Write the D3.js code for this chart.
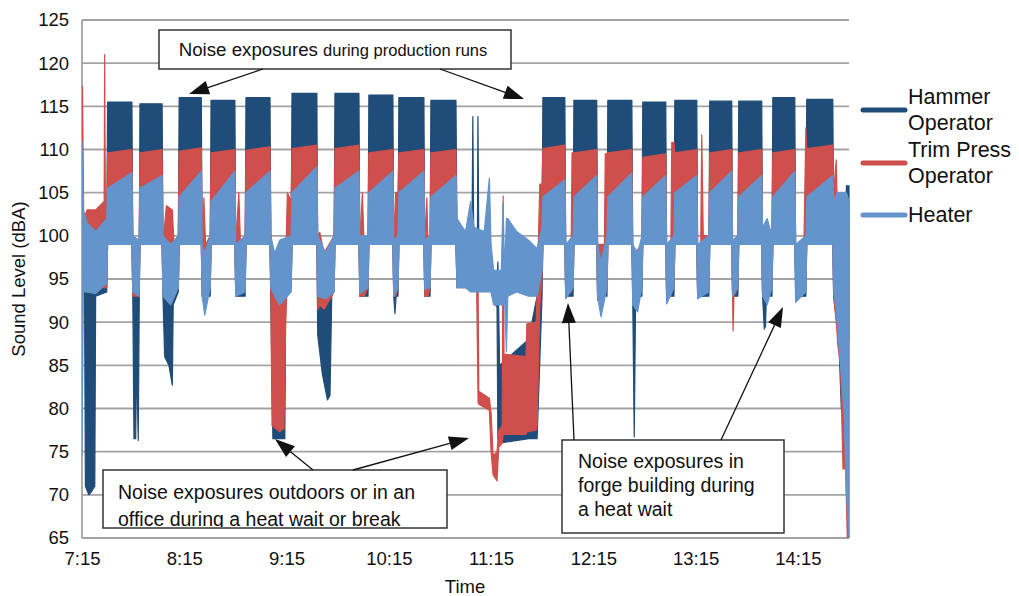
<!DOCTYPE html>
<html lang="en">
<head>
<meta charset="utf-8" />
<title>Sound level by time</title>
<style>
  body { margin: 0; background: #fff; font-family: "Liberation Sans", Arial, sans-serif; }
  .grid line { stroke: #a3a3a3; stroke-width: 1.8px; }
  .tick text { fill: #111; font-size: 18.5px; }
  .note rect { fill: #fff; stroke: #333; stroke-width: 1.5px; }
  .note text { fill: #111; font-size: 19.5px; }
  .arrow { stroke: #111; stroke-width: 1.3px; }
</style>
</head>
<body>
<script src="https://cdn.jsdelivr.net/npm/d3@7"></script>
<script>
// time is minutes after 7:15
const tickMinutes = [0, 60, 120, 180, 240, 300, 360, 420];
const tickLabels = ["7:15", "8:15", "9:15", "10:15", "11:15", "12:15", "13:15", "14:15"];
const yTicks = [65, 70, 75, 80, 85, 90, 95, 100, 105, 110, 115, 120, 125];

// production runs: start, end, hammer top, trim top, heater top at start, heater top at end
const runs = [
  [15.0, 29.3, 115.5, 110.0, 105.5, 107.3],
  [34.0, 47.0, 115.3, 110.0, 105.5, 107.0],
  [57.0, 70.0, 116.0, 110.2, 104.5, 107.5],
  [75.7, 89.7, 115.7, 110.0, 104.0, 107.5],
  [96.2, 110.3, 116.0, 110.3, 105.0, 107.5],
  [123.2, 137.8, 116.5, 110.5, 105.0, 108.0],
  [148.4, 162.5, 116.5, 110.5, 105.5, 107.5],
  [168.3, 182.4, 116.3, 110.0, 105.0, 107.5],
  [185.9, 200.6, 116.0, 110.0, 105.0, 107.5],
  [204.7, 219.4, 115.7, 110.0, 104.5, 107.0],
  [270.4, 283.3, 116.0, 110.5, 104.5, 106.5],
  [288.6, 302.0, 115.7, 110.0, 104.5, 107.0],
  [308.5, 322.6, 115.7, 110.0, 104.5, 107.3],
  [329.0, 342.5, 115.5, 109.5, 104.5, 107.0],
  [347.8, 360.7, 115.7, 110.0, 105.0, 107.0],
  [368.3, 381.2, 115.6, 110.0, 105.0, 107.5],
  [385.3, 398.8, 115.6, 110.0, 104.5, 107.0],
  [405.3, 418.2, 116.0, 110.0, 104.5, 107.5],
  [425.2, 440.5, 115.8, 110.5, 104.5, 107.0]
];
const runFloor = 99;

// outside the runs: [minute, low, high]
const hammerGaps = [
  [1.5, 93, 95], [2, 71, 94], [4, 70, 94], [6, 70.5, 93.5], [7.5, 71, 94], [8, 93, 94.5], [14.5, 93.5, 96],
  [29.8, 93, 99], [30.5, 76.5, 96], [31.5, 76.5, 96], [32, 86, 96], [33, 76.3, 96], [33.6, 93, 96],
  [47.5, 93, 100], [48.5, 86, 94], [51, 85, 93], [53, 82.7, 92], [53.5, 92, 95], [56.5, 93.5, 99],
  [70.5, 93, 97], [75.2, 93, 97],
  [90.2, 93, 97], [95.7, 93, 97],
  [110.8, 92, 99], [112, 76.5, 93], [116, 76.5, 93], [119, 76.5, 93], [119.5, 93, 96], [122.7, 94, 99],
  [138.3, 88.5, 95], [141, 84, 93], [144, 81, 92], [145.5, 81.5, 93], [146.5, 93, 96], [147.9, 94, 99],
  [163, 93, 97], [167.8, 93, 97],
  [182.9, 93, 97], [183.6, 91, 97], [184.3, 93, 97], [185.4, 93, 97],
  [201.1, 93, 97], [204.2, 93, 97],
  [220, 94, 100], [228.8, 94, 100], [229.3, 94, 113.8], [229.8, 94, 100], [232, 94, 100], [232.3, 94, 113.8],
  [232.8, 94, 99], [240, 93.5, 96], [242.5, 92, 95], [243.5, 91.8, 95], [244, 76.5, 97], [245, 76, 85],
  [262, 76.5, 88], [267, 76.5, 93], [269.9, 93, 99],
  [283.8, 93, 97], [288.1, 93, 97],
  [302.5, 93, 97], [308, 93, 97],
  [323.1, 93, 99], [324, 76.7, 97], [324.8, 93, 97], [328.5, 93, 97],
  [343, 93, 97], [347.3, 93, 97],
  [361.2, 93, 97], [367.8, 93, 97],
  [381.7, 93, 97], [384.8, 93, 97],
  [399.3, 93, 97], [400.3, 89.2, 96], [401, 89.5, 96], [401.5, 93, 97], [404.8, 93, 97],
  [418.7, 93, 97], [424.7, 93, 97],
  [441, 93, 100], [444, 88, 98], [445.5, 80, 97], [446.5, 79.6, 96], [447, 88, 96], [448.5, 88, 105.8], [450, 88, 105.8]
];

const trimGaps = [
  [0.3, 95, 117.3], [1, 94, 102], [3, 93.5, 103], [8, 94, 103], [13, 94, 104], [13.3, 94, 121], [13.7, 94, 104], [14.5, 94, 104],
  [29.8, 93, 99], [33.5, 93, 99],
  [47.5, 93, 99], [49.5, 93, 103.5], [53, 93, 103], [54, 93, 99], [56.5, 94, 100],
  [70.5, 93, 100], [71.5, 94, 104.4], [72.5, 93, 99], [75.2, 94, 100],
  [90.2, 93.5, 99], [92, 94, 105], [93, 94, 99], [95.7, 94, 100],
  [110.8, 93, 100], [111.5, 78, 96], [116, 77.3, 93], [118.5, 77.7, 95], [119.5, 90, 97], [120.5, 95, 105], [122.7, 95, 104],
  [138.3, 91.5, 100], [139.5, 92, 100.4], [142, 91.5, 98], [147.9, 93.5, 100],
  [163, 93, 99], [164.5, 93, 105], [165.5, 93, 99], [167.8, 94, 100],
  [182.9, 93, 99], [184, 93, 105], [185.4, 94, 105],
  [201.1, 93, 99], [202.3, 93, 104.4], [203, 93, 99], [204.2, 94, 100],
  [220, 94.5, 99], [224, 94, 96], [226, 94.5, 99], [231.5, 94.5, 98.8], [232.4, 80.6, 94], [232.8, 80.5, 82],
  [239, 79.8, 81.2], [240, 75, 79.5], [241.2, 72.3, 74.5], [243.5, 71.6, 75], [244.5, 75.5, 77.5], [246.5, 76, 78],
  [247.1, 77, 104.6], [247.6, 77, 86.3], [260.5, 77, 86], [261, 77.3, 89.8], [266.5, 77.5, 90], [267, 78, 93.5],
  [268.6, 92, 106], [269.9, 95, 106],
  [283.8, 93, 99], [287, 93.5, 99], [287.5, 94, 109.6], [288.1, 94, 109.6],
  [302.5, 92.5, 99], [306.5, 93, 99], [307, 94, 109.5], [308, 94, 109.5],
  [323.1, 95.8, 97.7], [328.5, 95, 99],
  [343, 93, 99], [345.5, 93, 99], [346, 94, 110.8], [347.3, 94, 110.8],
  [361.2, 93, 99], [363, 93, 99], [363.6, 94, 111.7], [364.5, 94, 100], [367.8, 94, 100],
  [381.7, 93, 99], [382, 89, 99], [382.5, 93, 99], [384.8, 94, 100],
  [399.3, 93, 99], [404.8, 94, 100],
  [418.7, 95.8, 98.5], [423.5, 95.8, 98.5], [424.7, 95, 112.5],
  [441, 93, 105], [442.5, 90, 108.8], [443.5, 87.3, 100], [445, 85, 98], [446.5, 73, 98], [448, 73, 104], [449, 65, 104], [450, 65, 100]
];

const heaterGaps = [
  [0, 74.5, 111], [0.8, 93.5, 103], [3, 93.5, 101.5], [8, 93.3, 100.5], [14.5, 94.5, 102],
  [29.8, 93.5, 100], [33.5, 93, 99.5],
  [47.5, 93, 100], [52, 92, 99], [56.5, 94, 100],
  [70.5, 93, 99], [72, 90.8, 98], [75.2, 94, 100],
  [90.2, 93, 99], [95.7, 93.5, 100],
  [110.8, 94, 100], [113, 93, 98], [116, 92, 99.5], [122.7, 93.5, 100],
  [138.3, 93, 100], [143, 92.7, 98], [147.9, 93.5, 100],
  [163, 93.3, 100], [167.8, 94, 100],
  [182.9, 93, 99.5], [185.4, 94, 100],
  [201.1, 93.8, 99.5], [204.2, 94, 100],
  [220, 94, 102], [225, 94, 100.5], [228, 93.5, 104], [230, 93.5, 101], [236, 93.5, 100.5], [239, 93.5, 106.7],
  [240, 93.5, 99], [241.5, 92, 96], [246, 92, 96], [247, 92, 103.8], [248, 92.5, 96], [249, 86.6, 102],
  [249.8, 93, 102], [255, 93.5, 100.5], [262, 93, 99.5], [267, 93, 98.5], [269.9, 96, 101],
  [283.8, 92.7, 99], [288.1, 94, 100],
  [302.5, 93, 99], [304.5, 90.6, 97], [308, 94, 100],
  [323.1, 92, 99], [326, 91.2, 98], [328.5, 94, 100],
  [343, 92.1, 99], [347.3, 94, 100],
  [361.2, 92.7, 99], [367.8, 93.5, 100],
  [381.7, 93, 99.5], [384.8, 94, 100],
  [399.3, 93, 101], [402, 92, 102], [404.8, 94, 100],
  [418.7, 92.3, 99], [424.7, 93.5, 100],
  [441, 94, 104], [443, 90, 105], [445, 85, 105], [447, 80, 105], [448.5, 70, 105], [450, 65, 104]
];

const seriesNames = ["Hammer Operator", "Trim Press Operator", "Heater"];
const seriesColors = ["#1f4c78", "#cf4f4c", "#6394cc"];

const width = 1019, height = 596;
const plotLeft = 82, plotRight = 849, plotTop = 20, plotBottom = 538;

const x = d3.scaleLinear().domain([0, 450]).range([plotLeft, plotRight]);
const y = d3.scaleLinear().domain([65, 125]).range([plotBottom, plotTop]);

function build(gaps, topOf) {
  const pts = gaps.slice();
  runs.forEach(r => {
    const [a, b] = topOf(r);
    pts.push([r[0], runFloor, a], [r[1], runFloor, b]);
  });
  return pts.sort((p, q) => p[0] - q[0]);
}

const series = [
  build(hammerGaps, r => [r[2], r[2]]),
  build(trimGaps, r => [r[3] - 0.4, r[3]]),
  build(heaterGaps, r => [r[4], r[5]])
];

const svg = d3.select("body").append("svg")
  .attr("width", width)
  .attr("height", height);

// grid
svg.append("g").attr("class", "grid")
  .selectAll("line").data(yTicks).join("line")
  .attr("x1", plotLeft).attr("x2", plotRight)
  .attr("y1", d => y(d)).attr("y2", d => y(d));
svg.append("line")
  .attr("x1", plotLeft).attr("x2", plotLeft).attr("y1", plotTop).attr("y2", plotBottom)
  .attr("stroke", "#a3a3a3").attr("stroke-width", 1.8);

// axes labels
const yAxis = svg.append("g")
  .attr("transform", `translate(${plotLeft},0)`)
  .call(d3.axisLeft(y).tickValues(yTicks).tickSize(0).tickPadding(13));
yAxis.select(".domain").remove();

const xAxis = svg.append("g")
  .attr("transform", `translate(0,${plotBottom})`)
  .call(d3.axisBottom(x).tickValues(tickMinutes).tickSize(0).tickPadding(14)
    .tickFormat((d, i) => tickLabels[i]));
xAxis.select(".domain").remove();

svg.append("text")
  .attr("x", 465).attr("y", 593)
  .attr("text-anchor", "middle").style("font-size", "18.5px").attr("fill", "#111")
  .text("Time");

svg.append("text")
  .attr("transform", `translate(25,${(plotTop + plotBottom) / 2}) rotate(-90)`)
  .attr("text-anchor", "middle").style("font-size", "18.5px").attr("fill", "#111")
  .text("Sound Level (dBA)");

// traces
svg.append("clipPath").attr("id", "plot")
  .append("rect").attr("x", plotLeft).attr("y", plotTop)
  .attr("width", plotRight - plotLeft + 2).attr("height", plotBottom - plotTop);

const area = d3.area()
  .x(d => x(d[0]))
  .y0(d => y(d[1]))
  .y1(d => y(d[2]));

svg.append("g").attr("clip-path", "url(#plot)")
  .selectAll("path").data(series).join("path")
  .attr("d", area)
  .attr("fill", (d, i) => seriesColors[i])
  .attr("stroke", (d, i) => seriesColors[i])
  .attr("stroke-width", 1.2)
  .attr("stroke-linejoin", "round");

// legend
const legendLines = [["Hammer", "Operator"], ["Trim Press", "Operator"], ["Heater"]];
const legendY = [110, 163, 215];
const legend = svg.append("g");
legendLines.forEach((lines, i) => {
  legend.append("line")
    .attr("x1", 863).attr("x2", 905)
    .attr("y1", legendY[i]).attr("y2", legendY[i])
    .attr("stroke", seriesColors[i]).attr("stroke-width", 5).attr("stroke-linecap", "round");
  const t = legend.append("text")
    .attr("x", 908).attr("y", legendY[i] - (lines.length - 1) * 13 + 7)
    .style("font-size", "21.5px").attr("fill", "#111");
  lines.forEach((s, j) => t.append("tspan").attr("x", 908).attr("dy", j ? 26 : 0).text(s));
});

// annotations
function arrow(x1, y1, x2, y2) {
  const ang = Math.atan2(y2 - y1, x2 - x1);
  const len = 20, half = 7;
  const bx = x2 - len * Math.cos(ang), by = y2 - len * Math.sin(ang);
  svg.append("line").attr("class", "arrow")
    .attr("x1", x1).attr("y1", y1).attr("x2", bx).attr("y2", by);
  svg.append("path")
    .attr("d", `M${x2},${y2}L${bx + half * Math.sin(ang)},${by - half * Math.cos(ang)}L${bx - half * Math.sin(ang)},${by + half * Math.cos(ang)}Z`)
    .attr("fill", "#111");
}

function note(bx, by, bw, bh, lines, tx, ty, lh) {
  const g = svg.append("g").attr("class", "note");
  g.append("rect").attr("x", bx).attr("y", by).attr("width", bw).attr("height", bh);
  const t = g.append("text").attr("x", tx).attr("y", ty);
  lines.forEach((s, j) => t.append("tspan").attr("x", tx).attr("dy", j ? lh : 0).text(s));
  return t;
}

const n1 = svg.append("g").attr("class", "note");
n1.append("rect").attr("x", 159).attr("y", 30).attr("width", 352).attr("height", 39);
const t1 = n1.append("text").attr("x", 333).attr("y", 56).attr("text-anchor", "middle");
t1.append("tspan").style("font-size", "18.7px").text("Noise exposures ");
t1.append("tspan").style("font-size", "16.5px").text("during production runs");
arrow(263, 69, 189, 94);
arrow(440, 69, 524, 99);

// the lower line of this note is cut by its box in the original
svg.append("clipPath").attr("id", "n2clip")
  .append("rect").attr("x", 103).attr("y", 470).attr("width", 344).attr("height", 57);
note(103, 470, 344, 58, ["Noise exposures outdoors or in an", "office during a heat wait or break"], 118, 499, 27)
  .attr("clip-path", "url(#n2clip)");
arrow(313, 470, 275, 439);
arrow(353, 470, 469, 438);

note(562, 440, 222, 93, ["Noise exposures in", "forge building during", "a heat wait"], 578, 468, 24);
arrow(574, 440, 568, 303);
arrow(721, 440, 783, 307);
</script>
</body>
</html>
